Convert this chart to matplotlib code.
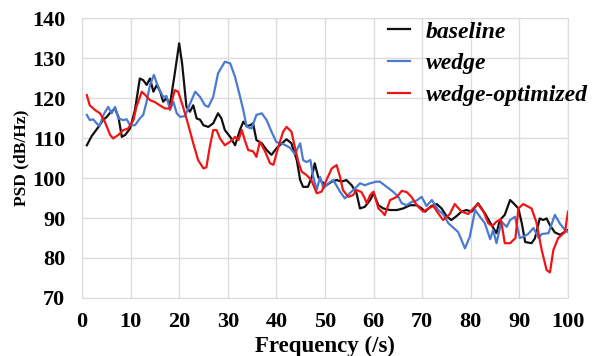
import matplotlib
matplotlib.use("Agg")
import matplotlib.pyplot as plt

# PSD curves
base_f = [1, 2, 3.4, 4.3, 5.1, 5.7, 6.8, 7.5, 8.2, 8.9, 9.9, 10.9, 11.9, 12.6, 13.3, 14, 14.7,
          15.4, 16.1, 16.7, 17.4, 18.1, 19.1, 20, 20.6, 21.5, 22.2, 22.9, 23.6, 24.3, 25, 26, 27,
          28, 28.7, 29.4, 30.5, 31.5, 32.5, 33.2, 33.9, 34.6, 35.2, 35.9, 37, 38, 39, 40, 40.7,
          42.1, 43.1, 44.2, 44.9, 45.5, 46.5, 47.3, 47.9, 48.6, 49.3, 50.3, 51.4, 52.4, 53.4,
          54.4, 55.5, 56.5, 57.2, 58.2, 59.3, 60, 61, 62, 63.4, 64.8, 66.1, 67.5, 68.9, 69.9,
          70.6, 71.9, 73, 74, 75, 76, 77.1, 78.1, 79.1, 80.2, 81.5, 82.9, 84.3, 85.3, 86, 87,
          88.1, 88.8, 89.8, 90.5, 91.2, 92.5, 93.2, 94.2, 94.9, 95.6, 96.3, 97.3, 98.4, 99.4, 100]
base_psd = [108.2, 110.5, 112.8, 114.5, 115.3, 116.2, 117.4, 115.3, 110.3, 110.8, 112.4, 117,
            124.9, 124.5, 123.3, 124.9, 121.6, 123.3, 121.6, 119.1, 120, 118.3, 126.2, 133.7,
            128.7, 117.8, 116.6, 118.2, 114.9, 114.6, 113.2, 112.8, 113.7, 116.2, 114.9, 112,
            110.3, 108.2, 112, 114.1, 113, 113.2, 113.7, 109.5, 108.7, 107, 105.8, 107.4, 108.2,
            109.7, 108.7, 104.5, 99.5, 97.8, 97.8, 100.3, 103.7, 100.3, 99.1, 98.2, 99.1, 99.5,
            99.1, 99.5, 98.2, 96.2, 92.4, 92.8, 94.5, 96.2, 93.2, 92.4, 92, 92, 92.4, 93.2, 93.2,
            92.4, 91.6, 93, 93.5, 92.4, 90.5, 89.5, 90.5, 91.6, 92, 91.6, 93.7, 91.2, 88.2, 86.2,
            89.5, 90.8, 94.5, 93.7, 92.4, 88.7, 84, 83.7, 84.9, 89.9, 89.5, 89.9, 88.2, 86.4,
            85.8, 86.6, 87]

wedge_f = [1, 1.6, 2.3, 3, 3.6, 4.5, 5.4, 6.1, 6.8, 7.5, 8.5, 9.2, 9.9, 10.9, 11.9, 12.6, 13.3,
           14, 14.8, 15.4, 16, 16.7, 17.4, 18.1, 18.8, 19.5, 20.2, 21.2, 22.2, 23.3, 24.3, 25.3,
           26, 27, 28, 29.4, 30.5, 31.5, 32.5, 33.2, 33.9, 34.9, 35.9, 37, 38, 39, 40, 41.4, 42.8,
           43.8, 44.9, 45.5, 46.2, 47, 47.6, 48.3, 49, 49.7, 50.7, 51.7, 53.1, 54.1, 55.1, 56.2,
           57.2, 58.2, 59.3, 60.6, 61.3, 62.7, 64, 65.1, 65.8, 66.8, 67.8, 68.9, 69.9, 70.9, 72,
           73.3, 74.3, 75.4, 76.4, 77.4, 78.1, 78.8, 79.8, 80.9, 81.9, 82.9, 84, 84.6, 85.3, 86.3,
           87.4, 88.1, 89.1, 90.1, 90.8, 91.8, 92.9, 94, 94.6, 96, 97.3, 98.4, 99.4, 100]
wedge_psd = [115.8, 114.5, 114.7, 113.7, 113, 116, 117.8, 116.2, 117.8, 114.9, 114.5, 114.7,
             113.2, 113.2, 114.9, 115.8, 119.1, 123.3, 125.8, 123.7, 122, 120.3, 120.5, 117,
             119.1, 116.2, 115.3, 115.5, 118.5, 121.6, 120.3, 118.2, 117.8, 120.3, 126.2, 129.1,
             128.7, 125.3, 120.5, 117, 112.8, 112.4, 115.8, 116.2, 114.5, 111.6, 109, 108.5,
             107.6, 106, 108.7, 104.5, 104, 104.5, 100.3, 97, 100.3, 97.4, 98.7, 99.5, 96.6,
             94.9, 96.2, 97.4, 98.7, 98.2, 98.7, 99.1, 99.1, 97.8, 96.6, 95.3, 93.7, 93.2, 94,
             94.4, 95.3, 93, 94.5, 92, 91, 88.7, 87.6, 86.5, 84.5, 82.4, 85.3, 92, 90.3, 88.7,
             84.7, 87, 83.7, 89.1, 87.8, 89.5, 90.3, 85, 85.3, 86, 87.5, 85, 86, 86.2, 90.8, 88.5,
             87, 86.5]

opt_f = [1, 1.6, 2.7, 3.7, 4.7, 5.8, 6.4, 7.5, 8.5, 9.5, 10.6, 11.2, 12.3, 13, 14, 15, 16, 17.1,
         18.1, 19.1, 19.8, 20.8, 21.9, 22.9, 23.9, 25, 25.6, 26.3, 27, 27.7, 28.4, 29.4, 30.5,
         31.5, 32.2, 32.9, 33.5, 34.2, 35.2, 35.9, 36.6, 37.7, 38.7, 39.4, 40.4, 41.4, 42.1, 43.1,
         43.8, 44.5, 45.2, 46.2, 47.2, 48.3, 49.3, 50.3, 51.4, 52.4, 53.1, 53.7, 54.8, 55.8, 56.5,
         57.5, 58.2, 58.6, 59.3, 60, 61, 61.7, 62.3, 63.4, 64.8, 65.8, 66.8, 67.8, 68.9, 70.2,
         71.3, 72.3, 73.3, 74.3, 75.7, 76.7, 78.1, 79.5, 80.5, 81.5, 82.7, 83.6, 84.4, 85.3, 86.2,
         87, 88.1, 89.2, 89.8, 90.8, 92.5, 93.5, 94.6, 95.6, 96.3, 97, 98, 99.4, 100]
opt_psd = [120.75, 118.2, 117, 116.2, 114.1, 110.8, 109.9, 110.8, 112, 112.4, 114.5, 117.8, 121.6,
           120.8, 119.5, 119, 118.2, 117.4, 117.4, 122, 121.6, 117.8, 113.2, 108.7, 104.5, 102.4,
           102.7, 107.8, 112, 112, 109.9, 108.2, 109.1, 110.3, 109.5, 112, 109.5, 107, 106.7,
           105.3, 109.1, 106.6, 103.7, 103.3, 107.8, 111.6, 112.8, 111.6, 107.8, 104.1, 101.6,
           100.75, 99.5, 96.2, 96.6, 99.5, 102.4, 103.25, 100.3, 97, 95.3, 95.75, 97, 96.5, 94.9,
           93.7, 95.75, 96.6, 92.4, 91.6, 90.75, 94.5, 95.3, 96.8, 96.5, 95.3, 93.2, 91.6, 92.4,
           93, 91.2, 89.5, 91, 93.5, 91.6, 91, 92.4, 93.5, 91.4, 88.7, 88, 89.1, 89.7, 83.7, 83.7,
           85, 92.4, 93.5, 92.4, 89, 82, 77, 76.4, 82, 85, 86.5, 91.6]

x_ticks = [0, 10, 20, 30, 40, 50, 60, 70, 80, 90, 100]
y_ticks = [70, 80, 90, 100, 110, 120, 130, 140]

plt.rcParams['font.family'] = ['Liberation Serif', 'DejaVu Serif']
plt.rcParams['font.weight'] = 'bold'

fig = plt.figure(figsize=(6.01, 3.56), dpi=100)
ax = fig.add_axes([0.1364, 0.163, 0.8086, 0.786])

ax.plot(base_f, base_psd, color='#111111', lw=1.6, label='baseline')
ax.plot(wedge_f, wedge_psd, color='#4a7bd0', lw=1.6, label='wedge')
ax.plot(opt_f, opt_psd, color='#f01515', lw=1.6, label='wedge-optimized')

ax.set_xlim(0, 100)
ax.set_ylim(70, 140)
ax.set_xticks(x_ticks)
ax.set_yticks(y_ticks)
ax.tick_params(length=0, labelsize=16)
ax.tick_params(axis='y', pad=12)
ax.tick_params(axis='x', pad=10)
ax.grid(True, color='#dcdcdc', lw=1)
for s in ax.spines.values():
    s.set_color('#dcdcdc')

ax.set_xlabel('Frequency (/s)', fontsize=16.5, fontweight='bold', labelpad=3)
ax.set_ylabel('PSD (dB/Hz)', fontsize=12.5, fontweight='bold', labelpad=1.5)

leg = ax.legend(loc='upper left', frameon=False,
                prop={'style': 'italic', 'weight': 'bold', 'size': 17},
                handlelength=0.95, handletextpad=0.65, labelspacing=0.44,
                borderpad=0, borderaxespad=0,
                bbox_to_anchor=(388 / 601, 1 - 21 / 356), bbox_transform=fig.transFigure)

fig.savefig('out.png', dpi=100)
